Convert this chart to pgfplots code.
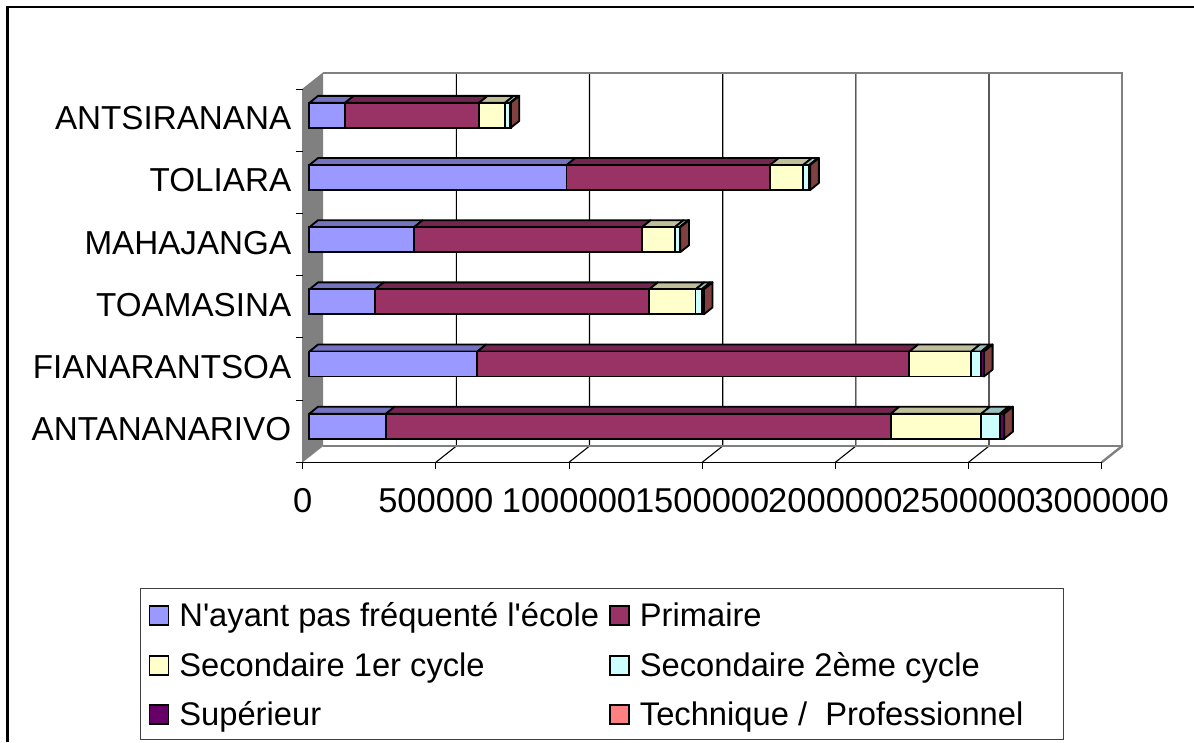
\documentclass[border=0pt]{standalone}
\usepackage{fontspec}
\setmainfont{Liberation Sans}
\newfontfamily\plainf{Liberation Sans}
\usepackage{pgfplots}
\usepackage{pgfplotstable}
\pgfplotsset{compat=1.18}
\definecolor{s1}{HTML}{9999FF}\definecolor{s2}{HTML}{993366}\definecolor{s3}{HTML}{FFFFCC}
\definecolor{s4}{HTML}{CCFFFF}\definecolor{s5}{HTML}{660066}\definecolor{s6}{HTML}{FF8080}
\definecolor{t1}{HTML}{7373BF}\definecolor{t2}{HTML}{732650}\definecolor{t3}{HTML}{BFBF99}
\definecolor{t4}{HTML}{99BFBF}\definecolor{t5}{HTML}{4D004D}\definecolor{t6}{HTML}{BF6060}
\definecolor{sidec}{HTML}{804040}\definecolor{wall}{HTML}{808080}
\pgfplotstableread{
y a b c d e f
0 288000 1895000 340000 70000 15000 1000
1 631000 1622000 232000 37500 9400 1000
2 247000 1029000 174000 23000 7500 1000
3 393000 856000 123000 18000 2000 1000
4 966000 764000 124000 23000 2500 1000
5 134000 503000 97600 18800 1500 1000
}\tbl
\newcommand\fm[2]{\begingroup\pgfkeys{/pgf/fpu=true,/pgf/fpu/output format=fixed}\pgfmathparse{#2}\xdef#1{\pgfmathresult}\endgroup}
\def\dX{32700}\def\dY{0.1126}\def\hB{0.201}
% top face of one segment: #1 row, #2 start, #3 length, #4 colour
\newcommand\topface[4]{%
  \fm\xA{#2}\fm\xB{#2+#3}\fm\xC{#2+#3+\dX}\fm\xD{#2+\dX}%
  \fm\yA{#1+\hB}\fm\yB{#1+\hB+\dY}%
  \edef\temp{\noexpand\addplot[fill=#4,draw=black,line width=1.8pt,line join=round] coordinates {(\xA,\yA)(\xB,\yA)(\xC,\yB)(\xD,\yB)} --cycle;}\temp}
\newcommand\sideface[2]{%
  \fm\xA{#2}\fm\xC{#2+\dX}\fm\yA{#1-\hB}\fm\yB{#1+\hB}\fm\yC{#1-\hB+\dY}\fm\yD{#1+\hB+\dY}%
  \edef\temp{\noexpand\addplot[fill=sidec,draw=black,line width=1.8pt,line join=round] coordinates {(\xA,\yA)(\xC,\yC)(\xC,\yD)(\xA,\yB)} --cycle;}\temp}
\newcommand\barfaces[1]{%
  \def\cum{0}%
  \foreach \col/\cc in {a/t1,b/t2,c/t3,d/t4,e/t5,f/t6}{%
    \pgfplotstablegetelem{#1}{\col}\of\tbl
    \let\vv\pgfplotsretval
    \expandafter\topface\expandafter{\expandafter#1\expandafter}\expandafter{\expandafter\cum\expandafter}\expandafter{\vv}{\cc}%
    \fm\cumnew{\cum+\vv}\global\let\cum\cumnew
  }%
  \sideface{#1}{\cum}%
}
\pgfplotsset{base/.style={scale only axis,width=799pt,height=373pt,xmin=0,xmax=3000000,ymin=-0.5,ymax=5.5,clip=false}}
\begin{document}
\begin{tikzpicture}[x=1pt,y=1pt]
\path[use as bounding box] (0,0) rectangle (1194,742);
\draw[black,line width=2.4pt] (7.5,0) -- (7.5,735) -- (1194,735);
% frame: walls, gridlines, ticks
\begin{axis}[base,at={(302.7pt,279.7pt)},anchor=south west,
  axis line style={draw=none},axis x line*=bottom,axis y line*=left,
  major tick length=0pt,
  xtick={0,500000,1000000,1500000,2000000,2500000,3000000},
  scaled x ticks=false,
  /pgf/number format/assume math mode=true,
  /pgf/number format/fixed,/pgf/number format/1000 sep={},
  ytick={0,1,2,3,4,5},
  yticklabels={ANTANANARIVO,FIANARANTSOA,TOAMASINA,MAHAJANGA,TOLIARA,ANTSIRANANA},
  xticklabel style={font=\fontsize{34.5}{40}\selectfont,black,yshift=-23pt},
  yticklabel style={font=\fontsize{33.2}{40}\selectfont,black,xshift=-8pt,yshift=2pt},
  axis on top=false]
\addplot[fill=wall,draw=none] coordinates {(0,-0.5)(77000,-0.238)(77000,5.762)(0,5.5)} --cycle;
\addplot[draw=black,line width=1.1pt] coordinates {(500000,-0.5)(577000,-0.238)(577000,5.762)};
\addplot[draw=black,line width=1.1pt] coordinates {(1000000,-0.5)(1077000,-0.238)(1077000,5.762)};
\addplot[draw=black,line width=1.1pt] coordinates {(1500000,-0.5)(1577000,-0.238)(1577000,5.762)};
\addplot[draw=black,line width=1.1pt] coordinates {(2000000,-0.5)(2077000,-0.238)(2077000,5.762)};
\addplot[draw=black,line width=1.1pt] coordinates {(2500000,-0.5)(2577000,-0.238)(2577000,5.762)};
\addplot[draw=wall,line width=2.4pt] coordinates {(77000,5.762)(3077000,5.762)(3077000,-0.238)(77000,-0.238)};
\addplot[draw=wall,line width=2.4pt] coordinates {(3000000,-0.5)(3077000,-0.238)};
\addplot[draw=wall,line width=1.2pt] coordinates {(0,5.5)(77000,5.762)};
\addplot[draw=black,line width=1.2pt] coordinates {(-26300,-0.5)(0,-0.5)(3000000,-0.5)};
\addplot[draw=wall,line width=1.4pt] coordinates {(0,-0.5)(0,5.5)};
\addplot[draw=black,line width=1pt] coordinates {(0,-0.5)(0,-0.612)};
\addplot[draw=black,line width=1pt] coordinates {(500000,-0.5)(500000,-0.612)};
\addplot[draw=black,line width=1pt] coordinates {(1000000,-0.5)(1000000,-0.612)};
\addplot[draw=black,line width=1pt] coordinates {(1500000,-0.5)(1500000,-0.612)};
\addplot[draw=black,line width=1pt] coordinates {(2000000,-0.5)(2000000,-0.612)};
\addplot[draw=black,line width=1pt] coordinates {(2500000,-0.5)(2500000,-0.612)};
\addplot[draw=black,line width=1pt] coordinates {(3000000,-0.5)(3000000,-0.612)};
\addplot[draw=black,line width=1pt] coordinates {(-26300,0.5)(0,0.5)};
\addplot[draw=black,line width=1pt] coordinates {(-26300,1.5)(0,1.5)};
\addplot[draw=black,line width=1pt] coordinates {(-26300,2.5)(0,2.5)};
\addplot[draw=black,line width=1pt] coordinates {(-26300,3.5)(0,3.5)};
\addplot[draw=black,line width=1pt] coordinates {(-26300,4.5)(0,4.5)};
\addplot[draw=black,line width=1pt] coordinates {(-26300,5.5)(0,5.5)};
\end{axis}
% top and side faces
\begin{axis}[base,hide axis,at={(309.3pt,284.7pt)},anchor=south west]
\barfaces{0}\barfaces{1}\barfaces{2}\barfaces{3}\barfaces{4}\barfaces{5}
\end{axis}
% front faces and legend
\begin{axis}[base,hide axis,at={(309.3pt,284.7pt)},anchor=south west,
  xbar stacked,bar width=25pt,
  legend columns=2,
  legend cell align=left,
  legend image code/.code={\draw[#1,line width=1.8pt] (2pt,-10.5pt) rectangle (21pt,8.5pt);},
  legend style={at={(-0.2119,-0.3504)},anchor=north west,draw=black!75,line width=1.2pt,
    font=\fontsize{32.7}{36}\selectfont,inner xsep=8pt,inner ysep=8pt,
    row sep=13.5pt,
    nodes={text height=30pt,text depth=6pt,inner sep=0pt},
    /tikz/every even column/.append style={column sep=10pt},
    /tikz/every odd column/.append style={column sep=10pt}}]
\addplot[fill=s1,draw=black,line width=1.8pt] table[x=a,y=y]{\tbl};
\addlegendentry{{\plainf N'ayant pas fréquenté l'école}}
\addplot[fill=s2,draw=black,line width=1.8pt] table[x=b,y=y]{\tbl};
\addlegendentry{Primaire}
\addplot[fill=s3,draw=black,line width=1.8pt] table[x=c,y=y]{\tbl};
\addlegendentry{Secondaire 1er cycle}
\addplot[fill=s4,draw=black,line width=1.8pt] table[x=d,y=y]{\tbl};
\addlegendentry{Secondaire 2ème cycle}
\addplot[fill=s5,draw=black,line width=1.8pt] table[x=e,y=y]{\tbl};
\addlegendentry{Supérieur}
\addplot[fill=s6,draw=black,line width=1.8pt] table[x=f,y=y]{\tbl};
\addlegendentry{Technique /\ \ Professionnel\rule{32pt}{0pt}}
\end{axis}
\end{tikzpicture}
\end{document}
